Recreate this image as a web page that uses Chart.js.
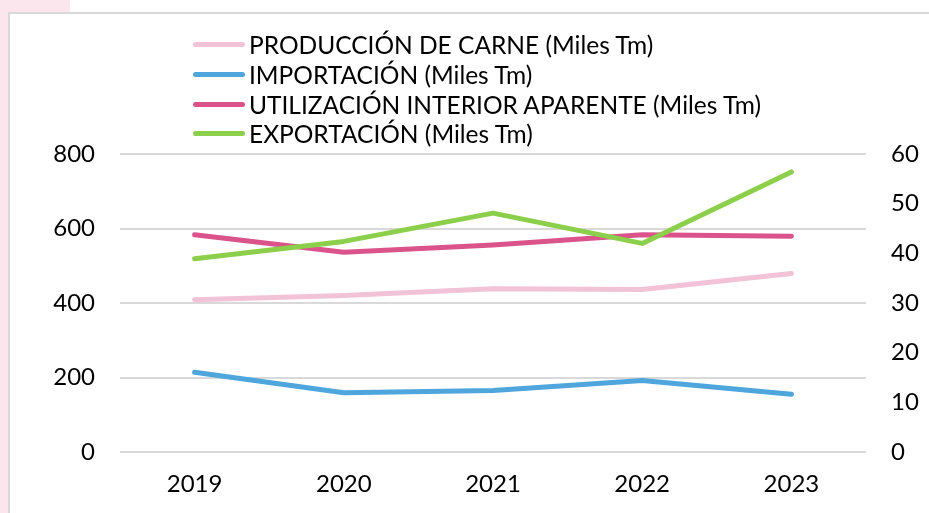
<!DOCTYPE html>
<html>
<head>
<meta charset="utf-8">
<script src="https://cdn.jsdelivr.net/npm/chart.js@4.4.1/dist/chart.umd.min.js"></script>
<style>
  html, body { margin: 0; padding: 0; background: #ffffff; }
  #wrap { position: relative; width: 929px; height: 513px; overflow: hidden; background: #ffffff; font-family: Lato, "Open Sans", sans-serif; }
  #pinkLeft { position: absolute; left: 0; top: 0; width: 8px; height: 513px; background: #fbe6ee; }
  #pinkTop { position: absolute; left: 0; top: 0; width: 70px; height: 12px; background: #fbe6ee; }
  #panel { position: absolute; left: 8px; top: 12px; width: 930px; height: 520px; border-left: 2px solid #d9d9d9; border-top: 2px solid #d9d9d9; box-sizing: border-box; background: #fff; }
  #c { position: absolute; left: 0; top: 0; }
  #legend { position: absolute; left: 193px; top: 30px; }
  .item { height: 29.7px; display: flex; align-items: center; white-space: nowrap; font-size: 24.5px; color: #000; }
  .swatch { width: 52px; height: 5px; border-radius: 3px; margin-right: 4px; }
</style>
</head>
<body>
<div id="wrap">
  <div id="pinkLeft"></div>
  <div id="pinkTop"></div>
  <div id="panel"></div>
  <canvas id="c" width="929" height="513"></canvas>
  <div id="legend"></div>
</div>
<script>
const years = ["2019", "2020", "2021", "2022", "2023"];
const produccion = [409, 420, 438, 436, 479];
const importacion = [214, 159, 165, 192, 155];
const utilizacion = [583, 536, 556, 583, 579];
const exportacion = [38.9, 42.4, 48.1, 42.0, 56.4];
const seriesLabels = [
  "PRODUCCIÓN DE CARNE (Miles Tm)",
  "IMPORTACIÓN (Miles Tm)",
  "UTILIZACIÓN INTERIOR APARENTE (Miles Tm)",
  "EXPORTACIÓN (Miles Tm)"
];
const colors = ["#f2c2d6", "#4ea6dc", "#da548b", "#8ccf4b"];

const datasets = [
  { label: seriesLabels[0], data: produccion, borderColor: colors[0], yAxisID: "y", order: 3 },
  { label: seriesLabels[1], data: importacion, borderColor: colors[1], yAxisID: "y", order: 2 },
  { label: seriesLabels[2], data: utilizacion, borderColor: colors[2], yAxisID: "y", order: 1 },
  { label: seriesLabels[3], data: exportacion, borderColor: colors[3], yAxisID: "y2", order: 0 }
].map(d => Object.assign(d, { borderWidth: 5, pointRadius: 0, tension: 0, fill: false, borderCapStyle: "round", borderJoinStyle: "round" }));

const tickFont = { family: "Lato, 'Open Sans', sans-serif", size: 24 };

new Chart(document.getElementById("c"), {
  type: "line",
  data: { labels: years, datasets: datasets },
  options: {
    responsive: false,
    animation: false,
    events: [],
    layout: { padding: { top: 154, left: 0, right: 0, bottom: 0 } },
    plugins: { legend: { display: false }, tooltip: { enabled: false } },
    scales: {
      x: {
        offset: true,
        grid: { display: false, drawTicks: false },
        border: { display: false },
        ticks: { color: "#000", font: tickFont, padding: 18, maxRotation: 0 },
        afterFit: s => { s.height = 61; }
      },
      y: {
        position: "left",
        min: 0, max: 800,
        ticks: { stepSize: 200, color: "#000", font: tickFont, padding: 25 },
        grid: { color: "#d9d9d9", lineWidth: 2, drawTicks: false },
        border: { display: false },
        afterFit: s => { s.width = 120; }
      },
      y2: {
        position: "right",
        min: 0, max: 60,
        ticks: { stepSize: 10, color: "#000", font: tickFont, padding: 25 },
        grid: { display: false, drawTicks: false },
        border: { display: false },
        afterFit: s => { s.width = 63; }
      }
    }
  }
});

const legend = document.getElementById("legend");
seriesLabels.forEach((lab, i) => {
  const row = document.createElement("div");
  row.className = "item";
  const sw = document.createElement("div");
  sw.className = "swatch";
  sw.style.background = colors[i];
  const tx = document.createElement("span");
  tx.textContent = lab;
  row.appendChild(sw);
  row.appendChild(tx);
  legend.appendChild(row);
});
</script>
</body>
</html>
